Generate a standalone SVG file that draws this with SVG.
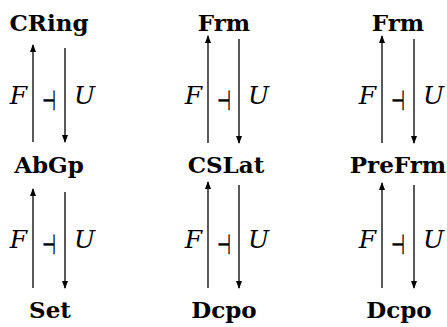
<svg xmlns="http://www.w3.org/2000/svg" width="447" height="327" viewBox="0 0 447 327">
<defs>
<style>
.obj{font-family:'DejaVu Serif',serif;font-weight:bold;font-size:23px;fill:#000;text-anchor:middle}
.lbl{font-family:'DejaVu Serif',serif;font-style:italic;font-size:25px;fill:#000}
.adj{font-family:'DejaVu Sans',sans-serif;font-size:24px;fill:#000;stroke:#000;stroke-width:0.4;text-anchor:middle}
.ar{stroke:#000;stroke-width:1.3;fill:none;marker-end:url(#ah)}
</style>
<marker id="ah" markerUnits="userSpaceOnUse" markerWidth="8" markerHeight="8" viewBox="0 0 8 8" refX="7" refY="4" orient="auto">
<path d="M0,1 L8,4 L0,7 Z" fill="#000"/>
</marker>
</defs>
<g id="connectors">
<line class="ar" x1="33" y1="142" x2="33" y2="45"/>
<line class="ar" x1="65" y1="48" x2="65" y2="142"/>
<line class="ar" x1="208" y1="143" x2="208" y2="36"/>
<line class="ar" x1="239" y1="39" x2="239" y2="143"/>
<line class="ar" x1="382" y1="143" x2="382" y2="36"/>
<line class="ar" x1="414" y1="39" x2="414" y2="143"/>
<line class="ar" x1="33" y1="288" x2="33" y2="189"/>
<line class="ar" x1="65" y1="192" x2="65" y2="288"/>
<line class="ar" x1="208" y1="288" x2="208" y2="182"/>
<line class="ar" x1="239" y1="185" x2="239" y2="288"/>
<line class="ar" x1="382" y1="288" x2="382" y2="183"/>
<line class="ar" x1="414" y1="185" x2="414" y2="288"/>
</g>
<g id="labels">
<text class="lbl" x="27" y="104" text-anchor="end">F</text>
<text class="adj" transform="translate(49,110) scale(0.65,1.15)">⊣</text>
<text class="lbl" x="74" y="104">U</text>
<text class="lbl" x="202" y="104" text-anchor="end">F</text>
<text class="adj" transform="translate(224,110) scale(0.65,1.15)">⊣</text>
<text class="lbl" x="248" y="104">U</text>
<text class="lbl" x="376" y="104" text-anchor="end">F</text>
<text class="adj" transform="translate(398,110) scale(0.65,1.15)">⊣</text>
<text class="lbl" x="423" y="104">U</text>
<text class="lbl" x="27" y="248" text-anchor="end">F</text>
<text class="adj" transform="translate(49,254) scale(0.65,1.15)">⊣</text>
<text class="lbl" x="74" y="248">U</text>
<text class="lbl" x="202" y="248" text-anchor="end">F</text>
<text class="adj" transform="translate(224,254) scale(0.65,1.15)">⊣</text>
<text class="lbl" x="248" y="248">U</text>
<text class="lbl" x="376" y="248" text-anchor="end">F</text>
<text class="adj" transform="translate(398,254) scale(0.65,1.15)">⊣</text>
<text class="lbl" x="423" y="248">U</text>
</g>
<g id="n-cring"><text class="obj" x="49" y="31">CRing</text></g>
<g id="n-frm1"><text class="obj" x="224" y="31">Frm</text></g>
<g id="n-frm2"><text class="obj" x="398" y="31">Frm</text></g>
<g id="n-abgp"><text class="obj" x="49" y="173">AbGp</text></g>
<g id="n-cslat"><text class="obj" x="226" y="173">CSLat</text></g>
<g id="n-prefrm"><text class="obj" x="398" y="173">PreFrm</text></g>
<g id="n-set"><text class="obj" x="50" y="318">Set</text></g>
<g id="n-dcpo1"><text class="obj" x="224" y="318">Dcpo</text></g>
<g id="n-dcpo2"><text class="obj" x="399" y="318">Dcpo</text></g>
</svg>
